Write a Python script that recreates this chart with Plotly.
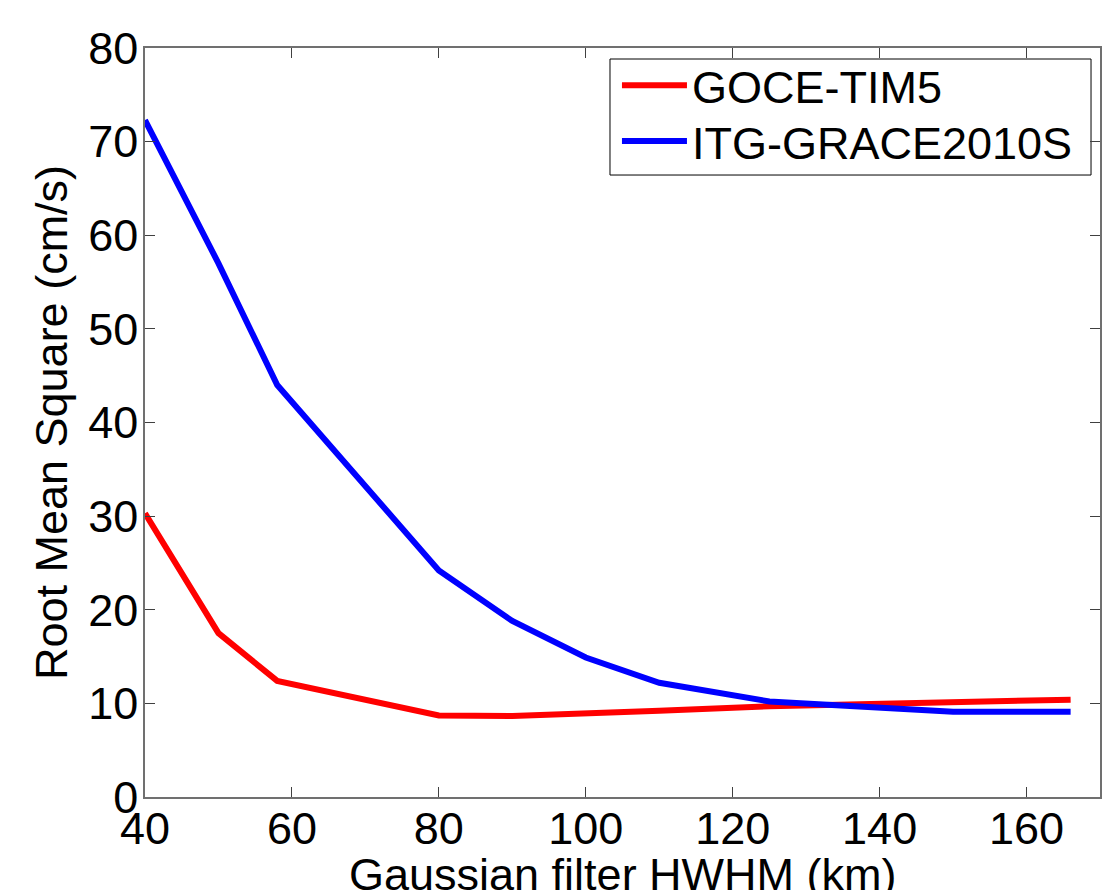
import plotly.graph_objects as go

# Data
hwhm_km = [40, 50, 58, 80, 90, 100, 110, 125, 150, 166]
goce_tim5 = [30.3, 17.5, 12.4, 8.7, 8.65, 8.9, 9.2, 9.7, 10.2, 10.4]
itg_grace2010s = [72.3, 57.0, 44.0, 24.2, 18.8, 14.9, 12.2, 10.2, 9.1, 9.1]

x_ticks = [40, 60, 80, 100, 120, 140, 160]
y_ticks = [0, 10, 20, 30, 40, 50, 60, 70, 80]

FONT = "Liberation Sans, Arial, Helvetica, sans-serif"
FS = 45

fig = go.Figure()
fig.add_trace(go.Scatter(x=hwhm_km, y=goce_tim5, mode="lines", name="GOCE-TIM5",
                         line=dict(color="#ff0000", width=6), legend="legend"))
fig.add_trace(go.Scatter(x=hwhm_km, y=itg_grace2010s, mode="lines", name="ITG-GRACE2010S",
                         line=dict(color="#0000ff", width=6), legend="legend2"))

axis_common = dict(
    showgrid=False, zeroline=False, showline=True, linecolor="#707070", linewidth=1.5,
    mirror="ticks", ticks="inside", ticklen=10, tickwidth=1.2, tickcolor="#404040",
    tickfont=dict(family=FONT, size=FS, color="black"), automargin=False,
)

legend_common = dict(
    xanchor="left", yanchor="middle", bgcolor="rgba(0,0,0,0)", borderwidth=0,
    font=dict(family=FONT, size=FS, color="black"), itemwidth=65,
)

fig.update_layout(
    width=1103, height=882,
    margin=dict(l=137, r=11, t=40, b=93),
    paper_bgcolor="white", plot_bgcolor="white",
    font=dict(family=FONT, size=FS, color="black"),
    xaxis=dict(range=[40, 170], tickvals=x_ticks, ticklabelstandoff=-9,
               **axis_common),
    yaxis=dict(range=[0, 80], tickvals=y_ticks, ticklabelstandoff=-4,
               title=dict(text="Root Mean Square (cm/s)", standoff=6,
                          font=dict(family=FONT, size=FS, color="black")),
               **axis_common),
    legend=dict(x=0.4942, y=0.9500, **legend_common),
    legend2=dict(x=0.4942, y=0.8755, **legend_common),
    showlegend=True,
    shapes=[dict(type="rect", xref="paper", yref="paper",
                 x0=0.4869, x1=0.9906, y0=0.8304, y1=0.9853,
                 line=dict(color="black", width=1), fillcolor="white", layer="below")],
    annotations=[dict(text="Gaussian filter HWHM (km)", xref="paper", yref="paper",
                      x=0.5, y=0, xanchor="center", yanchor="top", yshift=-50,
                      showarrow=False, font=dict(family=FONT, size=FS, color="black"))],
)

fig.write_html("out.html")
